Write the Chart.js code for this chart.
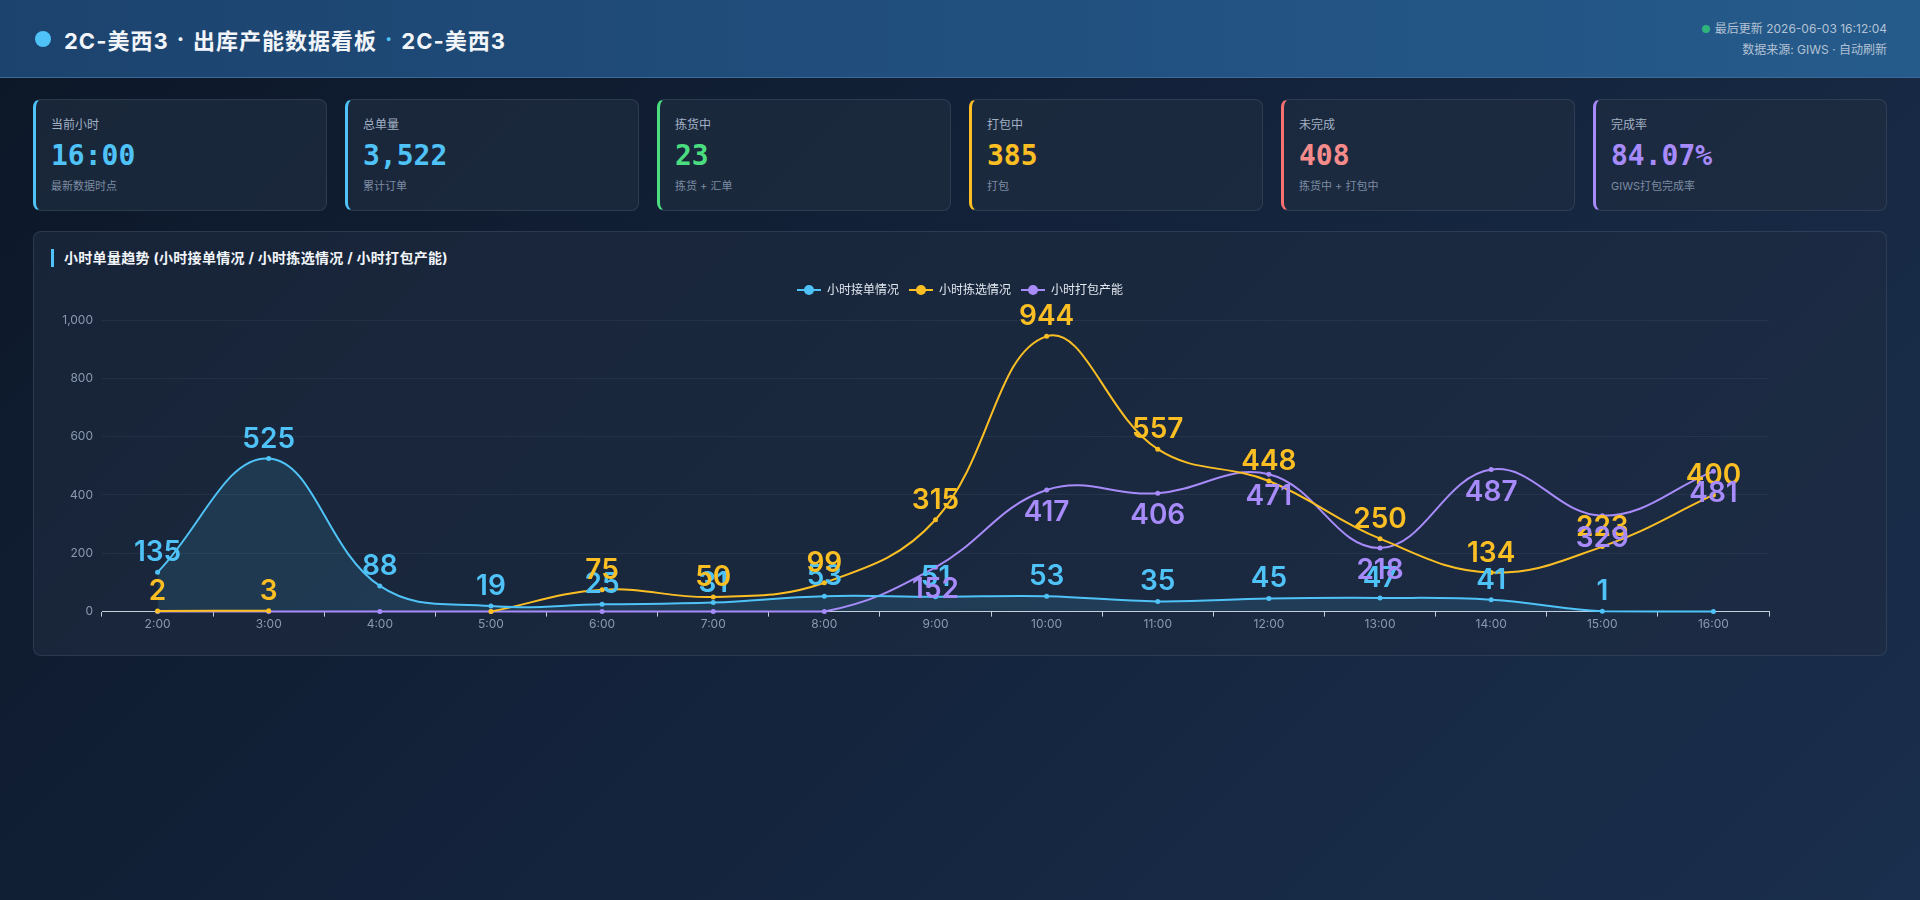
<!DOCTYPE html>
<html lang="zh-CN">
<head>
<meta charset="UTF-8">
<title>2C-美西3 · 出库产能数据看板</title>
<script src="https://cdn.jsdelivr.net/npm/chart.js@4.4.1/dist/chart.umd.min.js"></script>
<style>
  * { box-sizing: border-box; }
  html, body { margin: 0; padding: 0; }
  body {
    width: 1920px;
    height: 900px;
    overflow: hidden;
    font-family: "Inter", "Noto Sans CJK SC", sans-serif;
    color: #e2e8f0;
    background: linear-gradient(135deg, #0c1727 0%, #13223a 45%, #1a2f4d 100%);
  }

  /* ================= HEADER ================= */
  .header {
    height: 78px;
    padding: 0 33px 0 35px;
    display: flex;
    align-items: center;
    justify-content: space-between;
    background: linear-gradient(90deg, #1c436e 0%, #214f7e 50%, #255b8b 100%);
    border-bottom: 1px solid #3b6a98;
  }
  .title {
    display: flex;
    align-items: center;
    font-size: 22px;
    font-weight: 700;
    letter-spacing: 1px;
    color: #f1f5f9;
  }
  .title .dot {
    width: 16px;
    height: 16px;
    border-radius: 50%;
    background: #4fc3f7;
    margin-right: 13px;
  }
  .title .sep { color: #4fc3f7; margin: 0 8px; }
  .title .sep1 { margin: 0 8px; }
  .meta {
    text-align: right;
    font-size: 12px;
    line-height: 21px;
    color: #b3c2d4;
  }
  .meta .live {
    display: inline-block;
    width: 8px;
    height: 8px;
    border-radius: 50%;
    background: #2fb47c;
    margin-right: 5px;
    vertical-align: 0px;
  }

  /* ================= CARDS ================= */
  .cards {
    display: flex;
    gap: 18px;
    margin: 21px 33px 0 33px;
  }
  .card {
    flex: 1;
    height: 112px;
    padding: 16px 15px 0 15px;
    border: 1px solid rgba(148,163,184,0.16);
    border-left: 3px solid #4fc3f7;
    border-radius: 8px;
    background: rgba(30,44,64,0.72);
  }
  .card .lbl { font-size: 12px; line-height: 17px; color: #a3b1c4; }
  .card .val {
    margin-top: 6px;
    font-family: "DejaVu Sans Mono", monospace;
    font-weight: 700;
    font-size: 28px;
    line-height: 34px;
  }
  .card .sub { margin-top: 5px; font-size: 11px; line-height: 16px; color: #7d8ca2; }

  /* ================= PAINEL GRAFICO ================= */
  .panel {
    position: relative;
    margin: 20px 33px 0 33px;
    height: 425px;
    border: 1px solid rgba(148,163,184,0.16);
    border-radius: 8px;
    background: rgba(30,44,64,0.62);
    padding: 17px 17px 0 17px;
  }
  .panel h3 {
    margin: 0;
    font-size: 14px;
    line-height: 18px;
    font-weight: 700;
    letter-spacing: 0.3px;
    color: #f1f5f9;
    border-left: 3px solid #4fc3f7;
    padding-left: 10px;
  }
  .chart-wrap {
    position: absolute;
    left: 0;
    right: 0;
    top: 42px;
    height: 359px;
  }
</style>
</head>
<body>

<div class="header">
  <div class="title">
    <span class="dot"></span>
    <span>2C-美西3</span><span class="sep1">·</span><span>出库产能数据看板</span><span class="sep">·</span><span>2C-美西3</span>
  </div>
  <div class="meta">
    <div><span class="live"></span>最后更新 2026-06-03 16:12:04</div>
    <div>数据来源: GIWS · 自动刷新</div>
  </div>
</div>

<div class="cards">
  <div class="card" style="border-left-color:#4fc3f7">
    <div class="lbl">当前小时</div>
    <div class="val" style="color:#4fc3f7">16:00</div>
    <div class="sub">最新数据时点</div>
  </div>
  <div class="card" style="border-left-color:#4fc3f7">
    <div class="lbl">总单量</div>
    <div class="val" style="color:#4fc3f7">3,522</div>
    <div class="sub">累计订单</div>
  </div>
  <div class="card" style="border-left-color:#4ade80">
    <div class="lbl">拣货中</div>
    <div class="val" style="color:#4ade80">23</div>
    <div class="sub">拣货 + 汇单</div>
  </div>
  <div class="card" style="border-left-color:#fbbf24">
    <div class="lbl">打包中</div>
    <div class="val" style="color:#fbbf24">385</div>
    <div class="sub">打包</div>
  </div>
  <div class="card" style="border-left-color:#f87171">
    <div class="lbl">未完成</div>
    <div class="val" style="color:#f68b8b">408</div>
    <div class="sub">拣货中 + 打包中</div>
  </div>
  <div class="card" style="border-left-color:#a78bfa">
    <div class="lbl">完成率</div>
    <div class="val" style="color:#a78bfa">84.07%</div>
    <div class="sub">GIWS打包完成率</div>
  </div>
</div>

<div class="panel">
  <h3>小时单量趋势 (小时接单情况 / 小时拣选情况 / 小时打包产能)</h3>
  <div class="chart-wrap"><canvas id="trend"></canvas></div>
</div>

<script>
// ================= DADOS =================
const hours = ['2:00','3:00','4:00','5:00','6:00','7:00','8:00','9:00','10:00','11:00','12:00','13:00','14:00','15:00','16:00'];
const seriesNames = ['小时接单情况', '小时拣选情况', '小时打包产能'];
const orderIn = [135, 525, 88, 19, 25, 31, 53, 51, 53, 35, 45, 47, 41, 1, 0];
const picked  = [2, 3, null, 0, 75, 50, 99, 315, 944, 557, 448, 250, 134, 223, 400];
const packed  = [0, 0, 0, 0, 0, 0, 0, 152, 417, 406, 471, 218, 487, 329, 481];
const yTicks  = [0, 200, 400, 600, 800, 1000];

const colors = ['#4fc3f7', '#fbbf24', '#a78bfa'];
const labelBelow = [false, false, true]; // roxo fica embaixo do ponto

Chart.defaults.font.family = '"Inter", "Noto Sans CJK SC", sans-serif';

// icone da legenda: linha + bolinha
function legendIcon(color) {
  const c = document.createElement('canvas');
  c.width = 24; c.height = 12;
  const g = c.getContext('2d');
  g.strokeStyle = color; g.lineWidth = 2;
  g.beginPath(); g.moveTo(0, 6); g.lineTo(24, 6); g.stroke();
  g.fillStyle = color;
  g.beginPath(); g.arc(12, 6, 5, 0, Math.PI * 2); g.fill();
  return c;
}
const icons = colors.map(legendIcon);

// rotulos de valor (sem plugin externo)
const valueLabels = {
  id: 'valueLabels',
  afterDatasetsDraw(chart) {
    const ctx = chart.ctx;
    ctx.save();
    ctx.font = '600 28px "Inter", sans-serif';
    ctx.textAlign = 'center';
    ctx.textBaseline = 'alphabetic';
    chart.data.datasets.forEach((ds, i) => {
      const meta = chart.getDatasetMeta(i);
      ctx.fillStyle = colors[i];
      meta.data.forEach((pt, j) => {
        const v = ds.data[j];
        if (v === null || v === 0) return;
        const y = labelBelow[i] ? pt.y + 31 : pt.y - 11;
        ctx.fillText(String(v), pt.x, y);
      });
    });
    ctx.restore();
  }
};

// espaco extra embaixo da legenda
const legendGap = {
  id: 'legendGap',
  beforeInit(chart) {
    const fit = chart.legend.fit;
    chart.legend.fit = function () {
      fit.bind(chart.legend)();
      this.height += 14;
    };
  }
};

function makeDataset(idx, data, fill) {
  return {
    label: seriesNames[idx],
    data: data,
    borderColor: colors[idx],
    backgroundColor: fill ? 'rgba(79,195,247,0.12)' : colors[idx],
    pointBackgroundColor: colors[idx],
    pointBorderColor: colors[idx],
    pointRadius: 2.5,
    pointBorderWidth: 0,
    borderWidth: 2,
    tension: 0.4,
    clip: false,
    fill: fill ? 'origin' : false,
    yAxisID: 'y'
  };
}

// ================= GRAFICO =================
const ctx = document.getElementById('trend').getContext('2d');
new Chart(ctx, {
  type: 'line',
  data: {
    labels: hours,
    datasets: [
      makeDataset(0, orderIn, true),
      makeDataset(1, picked, false),
      makeDataset(2, packed, false)
    ]
  },
  options: {
    responsive: true,
    maintainAspectRatio: false,
    animation: false,
    layout: { padding: 0 },
    plugins: {
      filler: { drawTime: 'beforeDatasetsDraw' },
      tooltip: { enabled: false },
      legend: {
        position: 'top',
        labels: {
          color: '#e2e8f0',
          font: { size: 12 },
          usePointStyle: true,
          pointStyleWidth: 24,
          padding: 10,
          generateLabels(chart) {
            const items = Chart.defaults.plugins.legend.labels.generateLabels(chart);
            items.forEach((it, i) => { it.pointStyle = icons[i]; });
            return items;
          }
        }
      }
    },
    scales: {
      x: {
        offset: true,
        grid: {
          display: true,
          offset: true,
          drawOnChartArea: false,
          drawTicks: true,
          tickLength: 5,
          color: '#c5cedb'
        },
        border: { display: true, color: '#c5cedb', width: 1 },
        ticks: { color: '#8a9ab0', font: { size: 12 }, padding: 1, maxRotation: 0, autoSkip: false }
      },
      y: {
        min: yTicks[0],
        max: yTicks[yTicks.length - 1],
        afterBuildTicks(scale) { scale.ticks = yTicks.map(v => ({ value: v })); },
        afterFit(scale) { scale.width = 68; },
        grid: { color: 'rgba(148,163,184,0.09)', drawTicks: false },
        border: { display: false },
        ticks: { color: '#8a9ab0', font: { size: 12 }, padding: 9 }
      },
      yRight: {
        position: 'right',
        display: true,
        afterFit(scale) { scale.width = 117; },
        grid: { display: false, drawTicks: false },
        border: { display: false },
        ticks: { display: false }
      }
    }
  },
  plugins: [valueLabels, legendGap]
});
</script>
</body>
</html>
